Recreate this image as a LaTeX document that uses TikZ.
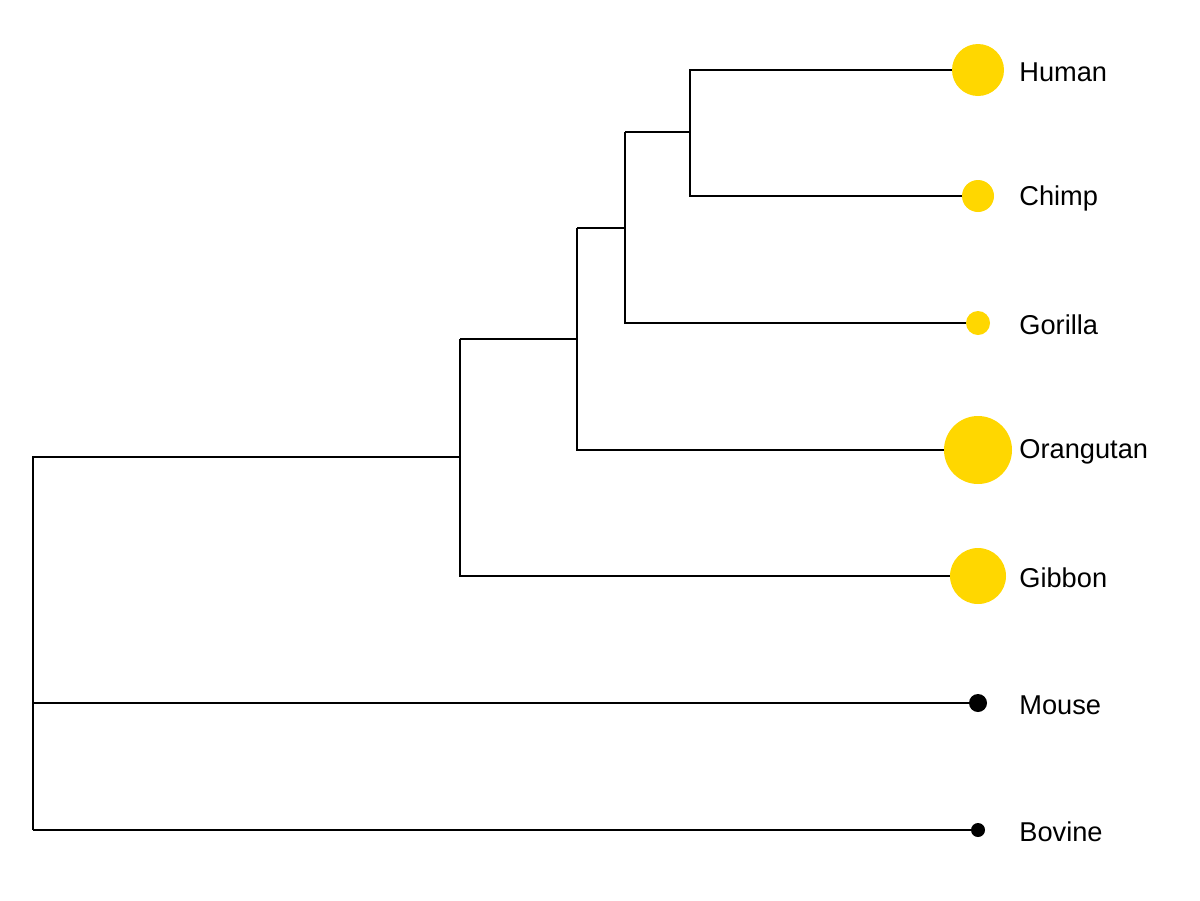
\documentclass[tikz,border=0pt]{standalone}
\usepackage{fontspec}
\setmainfont{Liberation Sans}
\definecolor{gold}{HTML}{FFD700}
\begin{document}
\begin{tikzpicture}[x=0.02cm,y=-0.02cm,
  branch/.style={line width=1.4pt},
  tiplabel/.style={anchor=west,inner sep=0pt,font=\fontsize{15.5}{18}\selectfont}]
\useasboundingbox (0,0) rectangle (1200,900);
% internal nodes
\coordinate (Root) at (33,457);
\coordinate (Ape) at (460,457);
\coordinate (Hom) at (577,339);
\coordinate (HCG) at (625,228);
\coordinate (HC) at (690,132);
% tips
\foreach \name/\y in {Human/70,Chimp/196,Gorilla/323,Orangutan/450,Gibbon/576,Mouse/703,Bovine/830} {
  \coordinate (\name) at (978,\y);
  \node[tiplabel] (\name L) at (1019,\y+2) {\name};
}
\draw[branch] (Root |- Bovine) -- (Root) -- (Ape);
\draw[branch] (Root |- Mouse) -- (Mouse);
\draw[branch] (Root |- Bovine) -- (Bovine);
\draw[branch] (Ape |- Hom) -- (Hom);
\draw[branch] (Ape |- Hom) -- (Ape |- Gibbon) -- (Gibbon);
\draw[branch] (Hom |- HCG) -- (HCG);
\draw[branch] (Hom |- HCG) -- (Hom |- Orangutan) -- (Orangutan);
\draw[branch] (HCG |- HC) -- (HC);
\draw[branch] (HCG |- HC) -- (HCG |- Gorilla) -- (Gorilla);
\draw[branch] (Human) -- (HC |- Human) -- (HC |- Chimp) -- (Chimp);
% tip circles
\foreach \name/\r/\col in {Human/26/gold,Chimp/16/gold,Gorilla/12/gold,Orangutan/34/gold,Gibbon/28/gold,Mouse/9/black,Bovine/7/black}
  \fill[\col] (\name) circle[radius=\r];
\end{tikzpicture}
\end{document}
